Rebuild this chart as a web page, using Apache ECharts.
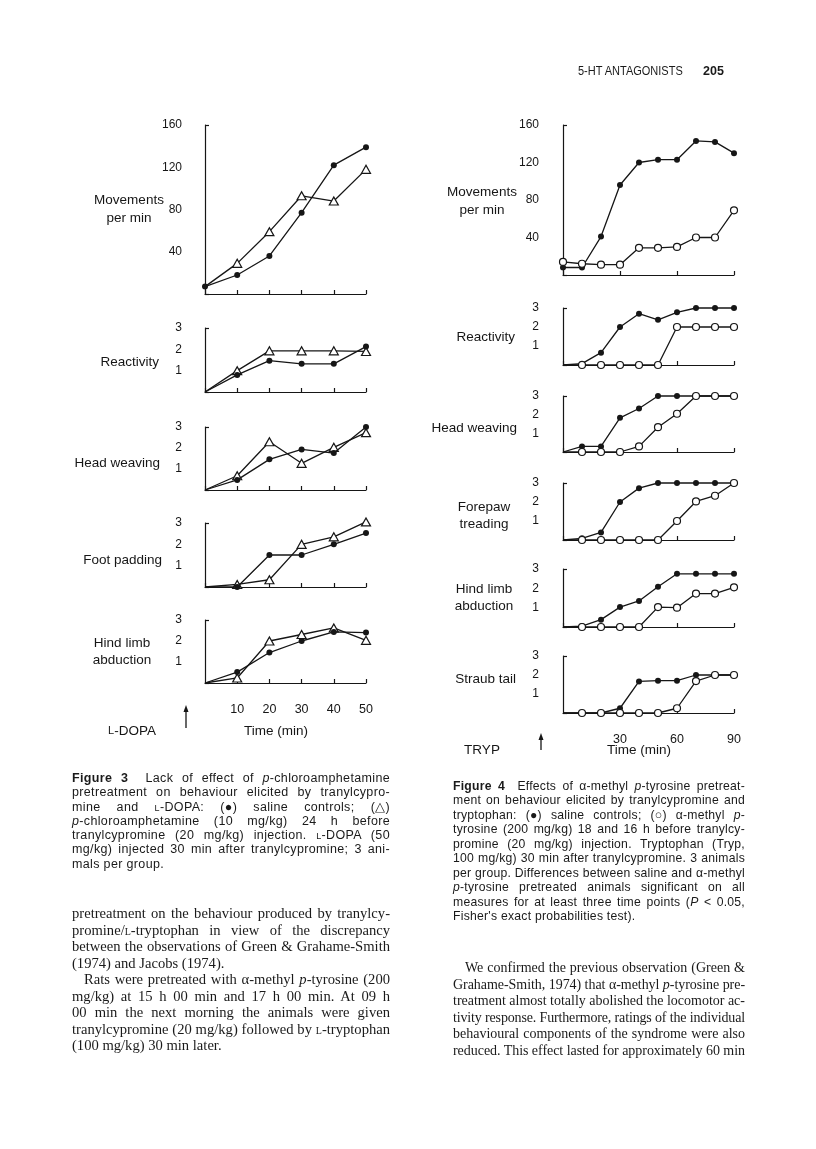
<!DOCTYPE html>
<html>
<head>
<meta charset="utf-8">
<script src="https://cdn.jsdelivr.net/npm/echarts@6.0.0/dist/echarts.min.js"></script>
<style>
  body { margin: 0; background: #fff; }
  #page { position: relative; width: 816px; height: 1149px; overflow: hidden; color: #1a1a1a; }
  #chart { position: absolute; left: 0; top: 0; width: 816px; height: 1149px; }
  .blk { position: absolute; }
  .blk div { white-space: nowrap; }
  .cap { font-family: "Liberation Sans", Arial, sans-serif; font-size: 12.5px; letter-spacing: 0.35px; }
  .body { font-family: "Liberation Serif", "Times New Roman", serif; font-size: 14.6px; }
  .sc { font-variant: small-caps; }
  .hdr { position: absolute; top: 64px; font-family: "Liberation Sans", Arial, sans-serif; font-size: 12.5px; white-space: nowrap; }
</style>
</head>
<body>
<div id="page">
  <div id="chart"></div>

  <div class="hdr" style="left:578px; transform:scaleX(0.88); transform-origin:left;">5-HT ANTAGONISTS</div>
  <div class="hdr" style="left:703px; font-weight:bold;">205</div>

  <div class="blk cap" style="left:72px; top:771px; width:318px; line-height:14.3px;">
    <div><b>Figure 3</b>&nbsp; Lack of effect of <i>p</i>-chloroamphetamine</div>
    <div>pretreatment on behaviour elicited by tranylcypro-</div>
    <div>mine and <span class="sc">l</span>-DOPA: (●) saline controls; (△)</div>
    <div><i>p</i>-chloroamphetamine (10 mg/kg) 24 h before</div>
    <div>tranylcypromine (20 mg/kg) injection. <span class="sc">l</span>-DOPA (50</div>
    <div>mg/kg) injected 30 min after tranylcypromine; 3 ani-</div>
    <div class="end">mals per group.</div>
  </div>

  <div class="blk cap" style="left:453px; top:779px; width:292px; line-height:14.45px; font-size:12.2px; letter-spacing:0.25px;">
    <div><b>Figure 4</b>&nbsp; Effects of α-methyl <i>p</i>-tyrosine pretreat-</div>
    <div>ment on behaviour elicited by tranylcypromine and</div>
    <div>tryptophan: (●) saline controls; (○) α-methyl <i>p</i>-</div>
    <div>tyrosine (200 mg/kg) 18 and 16 h before tranylcy-</div>
    <div>promine (20 mg/kg) injection. Tryptophan (Tryp,</div>
    <div>100 mg/kg) 30 min after tranylcypromine. 3 animals</div>
    <div>per group. Differences between saline and α-methyl</div>
    <div><i>p</i>-tyrosine pretreated animals significant on all</div>
    <div>measures for at least three time points (<i>P</i> &lt; 0.05,</div>
    <div class="end">Fisher's exact probabilities test).</div>
  </div>

  <div class="blk body" style="left:72px; top:905px; width:318px; line-height:16.5px;">
    <div>pretreatment on the behaviour produced by tranylcy-</div>
    <div>promine/<span class="sc">l</span>-tryptophan in view of the discrepancy</div>
    <div>between the observations of Green &amp; Grahame-Smith</div>
    <div class="end">(1974) and Jacobs (1974).</div>
    <div style="padding-left:12px;">Rats were pretreated with α-methyl <i>p</i>-tyrosine (200</div>
    <div>mg/kg) at 15 h 00 min and 17 h 00 min. At 09 h</div>
    <div>00 min the next morning the animals were given</div>
    <div>tranylcypromine (20 mg/kg) followed by <span class="sc">l</span>-tryptophan</div>
    <div class="end">(100 mg/kg) 30 min later.</div>
  </div>

  <div class="blk body" style="left:453px; top:960px; width:292px; line-height:16.5px; font-size:14px;">
    <div style="padding-left:12px;">We confirmed the previous observation (Green &amp;</div>
    <div>Grahame-Smith, 1974) that α-methyl <i>p</i>-tyrosine pre-</div>
    <div>treatment almost totally abolished the locomotor ac-</div>
    <div>tivity response. Furthermore, ratings of the individual</div>
    <div>behavioural components of the syndrome were also</div>
    <div>reduced. This effect lasted for approximately 60 min</div>
  </div>
</div>

<script>
// Figure 3: saline (filled circles) vs p-chloroamphetamine (open triangles)
const fig3Time = [0, 10, 20, 30, 40, 50];
const fig3MoveSaline = [7, 18, 36, 77, 122, 139];
const fig3MovePca = [7, 29, 59, 93, 88, 118];
const fig3ReactSaline = [0, 0.8, 1.47, 1.32, 1.32, 2.13];
const fig3ReactPca = [0, 1.0, 1.93, 1.93, 1.93, 1.9];
const fig3HeadSaline = [0, 0.48, 1.46, 1.93, 1.76, 3.0];
const fig3HeadPca = [0, 0.68, 2.3, 1.27, 2.03, 2.73];
const fig3FootSaline = [0, 0, 1.5, 1.5, 2.0, 2.53];
const fig3FootPca = [0, 0.12, 0.34, 2.0, 2.35, 3.05];
const fig3HindSaline = [0, 0.52, 1.45, 2.0, 2.43, 2.4];
const fig3HindPca = [0, 0.24, 2.0, 2.31, 2.62, 2.03];

// Figure 4: saline (filled circles) vs alpha-methyl p-tyrosine (open circles)
const fig4Time = [0, 10, 20, 30, 40, 50, 60, 70, 80, 90];
const fig4MoveSaline = [8, 8, 41, 96, 120, 123, 123, 143, 142, 130];
const fig4MoveAmpt = [14, 12, 11, 11, 29, 29, 30, 40, 40, 69];
const fig4ReactSaline = [0, 0.07, 0.65, 2.0, 2.7, 2.38, 2.77, 3, 3, 3];
const fig4ReactAmpt = [0, 0, 0, 0, 0, 0, 2, 2, 2, 2];
const fig4HeadSaline = [0, 0.3, 0.3, 1.83, 2.33, 3, 3, 3, 3, 3];
const fig4HeadAmpt = [0, 0, 0, 0, 0.3, 1.33, 2.05, 3, 3, 3];
const fig4ForeSaline = [0, 0.09, 0.4, 2.0, 2.73, 3, 3, 3, 3, 3];
const fig4ForeAmpt = [0, 0, 0, 0, 0, 0, 1.0, 2.03, 2.33, 3];
const fig4HindSaline = [0, 0.05, 0.38, 1.03, 1.35, 2.08, 2.75, 2.75, 2.75, 2.75];
const fig4HindAmpt = [0, 0, 0, 0, 0, 1.03, 1.0, 1.73, 1.73, 2.05];
const fig4StraubSaline = [0, 0, 0, 0.25, 1.66, 1.7, 1.7, 2.0, 2.0, 2.0];
const fig4StraubAmpt = [0, 0, 0, 0, 0, 0, 0.25, 1.68, 2, 2];

const moveTicks = [40, 80, 120, 160];
const scoreTicks = [1, 2, 3];

const INK = '#161616';
const FONT = '"Liberation Sans", Arial, sans-serif';

// a = saline, b = treated; markA / markB: marker on the t=0 point
const fig3 = {
  time: fig3Time, max: 50, step: 10, left: 205, width: 161, yGap: 19, open: 'triangle', openOnTop: false,
  panels: [
    { a: fig3MoveSaline, b: fig3MovePca, max: 160, ticks: moveTicks, top: 125, height: 169, gap: 16, markA: true },
    { a: fig3ReactSaline, b: fig3ReactPca, max: 3, ticks: scoreTicks, top: 328, height: 64, gap: 15 },
    { a: fig3HeadSaline, b: fig3HeadPca, max: 3, ticks: scoreTicks, top: 427, height: 63, gap: 15 },
    { a: fig3FootSaline, b: fig3FootPca, max: 3, ticks: scoreTicks, top: 523, height: 64, gap: 14 },
    { a: fig3HindSaline, b: fig3HindPca, max: 3, ticks: scoreTicks, top: 620, height: 63, gap: 15 }
  ]
};
const fig4 = {
  time: fig4Time, max: 90, step: 30, left: 563, width: 171, yGap: 20, open: 'circle', openOnTop: true,
  panels: [
    { a: fig4MoveSaline, b: fig4MoveAmpt, max: 160, ticks: moveTicks, top: 125, height: 150, gap: 16, markA: true, markB: true },
    { a: fig4ReactSaline, b: fig4ReactAmpt, max: 3, ticks: scoreTicks, top: 308, height: 57, gap: 13 },
    { a: fig4HeadSaline, b: fig4HeadAmpt, max: 3, ticks: scoreTicks, top: 396, height: 56, gap: 13 },
    { a: fig4ForeSaline, b: fig4ForeAmpt, max: 3, ticks: scoreTicks, top: 483, height: 57, gap: 13 },
    { a: fig4HindSaline, b: fig4HindAmpt, max: 3, ticks: scoreTicks, top: 569, height: 58, gap: 14 },
    { a: fig4StraubSaline, b: fig4StraubAmpt, max: 3, ticks: scoreTicks, top: 656, height: 57, gap: 15 }
  ]
};

let grids = [], xAxes = [], yAxes = [], series = [];

function lineData (time, vals, markFirst) {
  return time.map((t, k) => (k === 0 && !markFirst) ? { value: [t, vals[k]], symbol: 'none' } : [t, vals[k]]);
}

function addFigure (fig) {
  fig.panels.forEach((p, n) => {
    const i = grids.length;
    const last = n === fig.panels.length - 1;
    grids.push({ left: fig.left, width: fig.width, top: p.top, height: p.height });
    xAxes.push({
      gridIndex: i, type: 'value', min: 0, max: fig.max, interval: fig.step, offset: p.gap,
      axisLine: { lineStyle: { color: INK, width: 1.2 } },
      axisTick: { inside: true, length: 4, lineStyle: { color: INK, width: 1.2 } },
      splitLine: { show: false },
      axisLabel: { show: last, showMinLabel: false, color: INK, fontSize: 12.5, fontFamily: FONT, margin: 5 }
    });
    yAxes.push({
      gridIndex: i, type: 'value', min: 0, max: p.max, offset: fig.yGap,
      axisLine: { show: true, lineStyle: { color: INK, width: 1.2 } },
      axisTick: { show: true, inside: true, length: 4, customValues: [0, p.max], lineStyle: { color: INK, width: 1.2 } },
      splitLine: { show: false },
      axisLabel: { customValues: p.ticks, color: INK, fontSize: 12, fontFamily: FONT, margin: 4 }
    });
    series.push({
      type: 'line', xAxisIndex: i, yAxisIndex: i, data: lineData(fig.time, p.a, p.markA),
      symbol: 'circle', symbolSize: 6, showAllSymbol: true, clip: false, z: fig.openOnTop ? 2 : 4,
      itemStyle: { color: INK }, lineStyle: { color: INK, width: 1.3 }
    });
    series.push({
      type: 'line', xAxisIndex: i, yAxisIndex: i, data: lineData(fig.time, p.b, p.markB),
      symbol: fig.open, symbolSize: fig.open === 'triangle' ? [9, 8] : 7, showAllSymbol: true, clip: false, z: 3,
      itemStyle: { color: '#fff', borderColor: INK, borderWidth: 1.2 }, lineStyle: { color: INK, width: 1.3 }
    });
  });
}
addFigure(fig3);
addFigure(fig4);

function txt (x, y, text, align) {
  return {
    type: 'text', x: x, y: y, silent: true,
    style: { text: text, fill: INK, font: '13.5px ' + FONT, align: align || 'center', verticalAlign: 'middle',
      textAlign: align || 'center', textVerticalAlign: 'middle' }
  };
}
function arrow (x, top, bottom) {
  return [
    { type: 'line', shape: { x1: x, y1: top + 3, x2: x, y2: bottom }, style: { stroke: INK, lineWidth: 1.3 } },
    { type: 'polygon', shape: { points: [[x - 2.5, top + 7], [x, top], [x + 2.5, top + 7]] }, style: { fill: INK } }
  ];
}
function dopa (x, y) {
  return {
    type: 'text', x: x, y: y, silent: true,
    style: { text: '{sc|L}-DOPA', fill: INK, font: '13.5px ' + FONT, align: 'center', verticalAlign: 'middle',
      textAlign: 'center', textVerticalAlign: 'middle',
      rich: { sc: { fontSize: 11, fontFamily: FONT, fill: INK } } }
  };
}

const graphics = [
  txt(129, 200, 'Movements'), txt(129, 218, 'per min'),
  txt(159, 362, 'Reactivity', 'right'),
  txt(160, 463, 'Head weaving', 'right'),
  txt(162, 560, 'Foot padding', 'right'),
  txt(122, 643, 'Hind limb'), txt(122, 660, 'abduction'),
  dopa(132, 731),
  txt(276, 731, 'Time (min)'),
  ...arrow(186, 705, 728),

  txt(482, 192, 'Movements'), txt(482, 210, 'per min'),
  txt(515, 337, 'Reactivity', 'right'),
  txt(517, 428, 'Head weaving', 'right'),
  txt(484, 507, 'Forepaw'), txt(484, 524, 'treading'),
  txt(484, 589, 'Hind limb'), txt(484, 606, 'abduction'),
  txt(516, 679, 'Straub tail', 'right'),
  txt(482, 750, 'TRYP'),
  txt(639, 750, 'Time (min)'),
  ...arrow(541, 733, 750)
];

const chart = echarts.init(document.getElementById('chart'), null, { renderer: 'canvas' });
chart.setOption({
  animation: false,
  grid: grids,
  xAxis: xAxes,
  yAxis: yAxes,
  series: series,
  graphic: graphics
});

// justify each printed line to its column width
document.querySelectorAll('.blk > div').forEach(d => {
  const cs = getComputedStyle(d);
  const target = d.parentElement.getBoundingClientRect().width - (parseFloat(cs.paddingLeft) || 0);
  const span = document.createElement('span');
  span.innerHTML = d.innerHTML;
  d.innerHTML = '';
  d.appendChild(span);
  let w = span.getBoundingClientRect().width;
  const chars = span.textContent.length;
  if (w > target) {
    const ls = (parseFloat(cs.letterSpacing) || 0) - (w - target) / chars;
    d.style.letterSpacing = ls + 'px';
    w = span.getBoundingClientRect().width;
  }
  if (!d.classList.contains('end')) {
    const spaces = (span.textContent.match(/[ \u00a0]/g) || []).length;
    if (spaces) d.style.wordSpacing = ((target - w) / spaces) + 'px';
  }
});
</script>
</body>
</html>
